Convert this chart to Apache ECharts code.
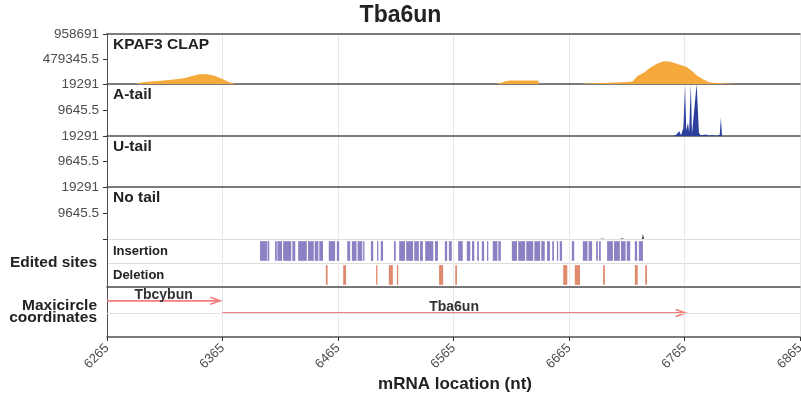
<!DOCTYPE html>
<html><head><meta charset="utf-8">
<script src="https://cdn.jsdelivr.net/npm/echarts@6/dist/echarts.min.js"></script>
<style>html,body{margin:0;padding:0;background:#fff}#c{width:801px;height:404px}</style>
</head><body><div id="c"></div>
<script>
// ---- data ----
const xTicks = [6265, 6365, 6465, 6565, 6665, 6765, 6865];
const clapMax = 958691;
const tailMax = 19291;
const panelNames = ['KPAF3 CLAP', 'A-tail', 'U-tail', 'No tail'];
const kpaf3 = [[6265,0],[6290,0],[6293,25000],[6300,43000],[6312,60000],[6323,86000],[6332,110000],[6338,150000],[6345,188000],[6352,185000],[6358,160000],[6364,105000],[6370,45000],[6376,0],
  [6600,0],[6605,15000],[6610,55000],[6614,65000],[6626,66000],[6638.5,66000],[6639,0],
  [6674,0],[6680,10000],[6700,25000],[6715,40000],[6720,50000],[6724,150000],[6730,220000],[6736,320000],[6742,400000],[6747,438000],[6752,430000],[6757,400000],[6762,360000],[6767,325000],[6772,240000],[6776,156000],[6781,90000],[6787,30000],[6797,12000],[6810,0],[6865,0]];
const aTail = [[6265,0],[6755,0],[6757.5,400],[6759,0],[6760.5,1800],[6762,300],[6764,3000],[6765.5,18500],[6766.5,2000],[6768,4900],[6769,1500],[6770.5,19291],[6771.5,800],[6773,1500],[6775.5,19291],[6776.5,19291],[6777.5,1200],[6779,300],[6783.5,600],[6786,200],[6789.5,400],[6792,0],[6795.5,500],[6796.5,6800],[6797.5,0],[6865,0]];
const uTail = [[6265,0],[6604,0],[6605,60],[6606,0],[6676,0],[6677,60],[6678,0],[6721,0],[6722,60],[6723,0],[6865,0]];
const noTail = [[6265,0],[6692,0],[6694,200],[6696,0],[6709,0],[6711,300],[6713,0],[6728,0],[6729,1900],[6730,0],[6865,0]];
const editCats = ['Deletion', 'Insertion'];
const insertionRanges = [[6397.5,6403.5],[6404,6405.5],[6410.5,6412],[6412.5,6416.5],[6417.5,6424.5],[6425.5,6428],[6430.5,6438],[6439,6444],[6444.8,6448],[6448.8,6452],[6457,6462.5],[6464,6466],[6473,6475.5],[6477,6481],[6482,6486],[6486.8,6487.8],[6493.5,6495.5],[6498.8,6499.8],[6502,6504],[6513.5,6515],[6518,6523],[6524,6530],[6531,6535],[6536,6538.5],[6540.5,6547.5],[6549,6551.5],[6557.5,6559.5],[6561,6563.5],[6569,6573],[6576.5,6579.5],[6581,6583],[6585.5,6587],[6589.5,6591.5],[6594,6595],[6599,6603],[6603.8,6606],[6615.5,6620],[6621,6627],[6628,6634],[6635,6640],[6641,6644],[6646,6648.5],[6650.5,6652],[6654.5,6655.5],[6657,6659],[6667.5,6669.5],[6677,6681],[6682,6685],[6688.5,6690],[6691,6692.5],[6698,6703],[6704,6709],[6710,6714],[6715,6718],[6722,6724],[6725.5,6729]];
const deletionRanges = [[6454.5,6456],[6469.5,6472],[6498,6499],[6509,6512.5],[6516,6517],[6552.5,6556],[6566.5,6568],[6660,6663.5],[6670,6674.5],[6694.5,6696],[6722,6724.5],[6731,6732.5]];
const geneNames = ['Tbcybun', 'Tba6un'];
const geneStarts = [6180, 6365];
const geneEnds = [6363, 6766];
const geneLanes = [3, 2];

// ---- layout ----
const FF = 'Liberation Sans, Arial, sans-serif';
const L = 107, R = 1;
const tops = [34, 84, 136, 187, 239, 287];
const bots = [84, 136, 187, 239, 287, 337];
const DARK = '#505050';

const grid = tops.map((t, i) => ({left: L, right: R, top: t, height: bots[i] - t, containLabel: false, outerBoundsMode: 'none'}));

const xAxis = tops.map((t, i) => ({
  type: 'value', gridIndex: i, min: 6265, max: 6865,
  axisTick: {show: i === 5, customValues: xTicks, length: 4, lineStyle: {color: '#333'}},
  axisLabel: {show: i === 5, customValues: xTicks, rotate: 45, color: '#4d4d4d', fontSize: 13, fontFamily: FF, margin: 9, formatter: v => String(v), hideOverlap: false},
  splitLine: {show: true, lineStyle: {color: '#e8e8e8', width: 1}},
  axisLine: {show: i !== 3, onZero: false, lineStyle: {color: DARK, width: 1.5}}
}));
xAxis.push({type: 'value', gridIndex: 0, position: 'top', min: 6265, max: 6865,
  axisTick: {show: false}, axisLabel: {show: false}, splitLine: {show: false},
  axisLine: {show: true, onZero: false, lineStyle: {color: DARK, width: 1.5}}});

const yAxis = [0, 1, 2, 3].map(i => {
  const mx = i === 0 ? clapMax : tailMax;
  return {
    type: 'value', gridIndex: i, min: 0, max: mx, interval: mx / 2,
    axisLabel: {color: '#4d4d4d', fontSize: 13.5, fontFamily: FF, margin: 8, formatter: v => v === 0 ? '' : String(v)},
    axisTick: {show: true, length: 4, lineStyle: {color: '#333'}},
    axisLine: {show: true, onZero: false, lineStyle: {color: DARK, width: 1}},
    splitLine: {show: false}
  };
});
yAxis.push({type: 'category', gridIndex: 4, data: editCats,
  axisLabel: {inside: true, margin: 6, color: '#222', fontWeight: 'bold', fontSize: 13, fontFamily: FF},
  axisTick: {show: false},
  axisLine: {show: true, onZero: false, lineStyle: {color: DARK, width: 1}},
  splitLine: {show: true, lineStyle: {color: '#dedede'}}});
yAxis.push({type: 'value', gridIndex: 5, min: 0, max: 4.15,
  axisLabel: {show: false}, axisTick: {show: false}, splitLine: {show: false},
  axisLine: {show: true, onZero: false, lineStyle: {color: DARK, width: 1}}});

function areaSeries(idx, data, color) {
  return {type: 'line', xAxisIndex: idx, yAxisIndex: idx, data: data, showSymbol: false, silent: true, z: 1,
    lineStyle: {width: 0, color: color}, areaStyle: {color: color, opacity: 1}, clip: true};
}
function rangeItem(color) {
  return function (params, api) {
    const y = api.value(2);
    const p0 = api.coord([api.value(0), y]);
    const p1 = api.coord([api.value(1), y]);
    const h = api.size([0, 1])[1] * 0.82;
    const w = Math.max(p1[0] - p0[0], 1.3);
    return {type: 'rect', shape: {x: p0[0], y: p0[1] - h / 2, width: w, height: h}, style: {fill: color}};
  };
}
const ARROW = '#f27d7d';
const geneData = geneNames.map((n, i) => [geneStarts[i], geneEnds[i], geneLanes[i]]);

const series = [
  areaSeries(0, kpaf3, '#f5a93a'),
  areaSeries(1, aTail, '#2c3f9c'),
  areaSeries(2, uTail, '#e0775a'),
  areaSeries(3, noTail, '#444444'),
  {type: 'custom', xAxisIndex: 4, yAxisIndex: 4, clip: true, silent: true,
   data: insertionRanges.map(r => [r[0], r[1], 1]), encode: {x: [0, 1], y: 2}, renderItem: rangeItem('#8b81c5')},
  {type: 'custom', xAxisIndex: 4, yAxisIndex: 4, clip: true, silent: true,
   data: deletionRanges.map(r => [r[0], r[1], 0]), encode: {x: [0, 1], y: 2}, renderItem: rangeItem('#e0896c')},
  {type: 'custom', xAxisIndex: 5, yAxisIndex: 5, clip: true, silent: true,
   data: geneData, encode: {x: [0, 1], y: 2},
   renderItem: function (params, api) {
     const lane = api.value(2);
     const cs = params.coordSys;
     const a = api.coord([api.value(0), lane]);
     const b = api.coord([api.value(1), lane]);
     const x0 = Math.max(a[0], cs.x), x1 = Math.min(b[0], cs.x + cs.width);
     const y = a[1];
     return {type: 'group', children: [
       {type: 'line', shape: {x1: a[0], y1: y, x2: b[0], y2: y}, style: {stroke: ARROW, lineWidth: 1.8}},
       {type: 'polyline', shape: {points: [[b[0] - 10, y - 3.5], [b[0], y], [b[0] - 10, y + 3.5]]}, style: {stroke: ARROW, lineWidth: 1.6, fill: null}},
       {type: 'text', style: {text: geneNames[params.dataIndex], x: (x0 + x1) / 2, y: y + 1.5, align: 'center', verticalAlign: 'bottom',
         fontSize: 14, fontWeight: 'bold', fontFamily: FF, fill: '#333'}}
     ]};
   },
   markLine: {silent: true, symbol: 'none', label: {show: false}, lineStyle: {color: '#e3e3e3', type: 'solid', width: 1}, data: [{yAxis: 2}]}
  }
];

const graphic = [
  {type: 'text', left: 'center', top: 4, style: {text: 'Tba6un', fontSize: 23, fontWeight: 'bold', fontFamily: FF, fill: '#222'}, z: 10},
  {type: 'text', x: 455, y: 384, style: {text: 'mRNA location (nt)', align: 'center', verticalAlign: 'middle', fontSize: 17, fontWeight: 'bold', fontFamily: FF, fill: '#222'}, z: 10},
  {type: 'text', x: 97, y: 263, style: {text: 'Edited sites', align: 'right', verticalAlign: 'middle', fontSize: 15.5, fontWeight: 'bold', fontFamily: FF, fill: '#222'}, z: 10},
  {type: 'text', x: 97, y: 311.5, style: {text: 'Maxicircle\ncoordinates', align: 'right', verticalAlign: 'middle', lineHeight: 12, fontSize: 15.5, fontWeight: 'bold', fontFamily: FF, fill: '#222'}, z: 10}
].concat(panelNames.map((n, i) => ({type: 'text', x: 113, y: tops[i] + 3, z: 10,
  style: {text: n, align: 'left', verticalAlign: 'top', fontSize: 15.5, fontWeight: 'bold', fontFamily: FF, fill: '#222'}})));

const chart = echarts.init(document.getElementById('c'), null, {renderer: 'canvas'});
chart.setOption({
  animation: false,
  backgroundColor: '#fff',
  textStyle: {fontFamily: FF},
  grid: grid, xAxis: xAxis, yAxis: yAxis, series: series, graphic: graphic
});
</script></body></html>
